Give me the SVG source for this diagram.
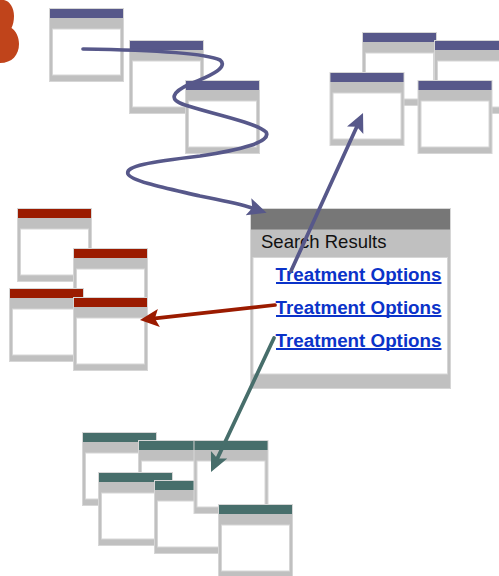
<svg xmlns="http://www.w3.org/2000/svg" xmlns:xlink="http://www.w3.org/1999/xlink" width="499" height="576" viewBox="0 0 499 576">
  <style>
    .pane-frame { fill: #c0c0c0; stroke: #d6d6d6; stroke-width: 1; }
    .pane-body { fill: #ffffff; stroke: #d6d6d6; stroke-width: 1; }
    .purple { color: #57588a; }
    .red { color: #9b1b00; }
    .teal { color: #476e6b; }
    .link { font-family: "Liberation Sans", Arial, sans-serif; font-size: 18.8px; font-weight: bold; fill: #0b33c9; }
    .underline { stroke: #0b33c9; stroke-width: 2; }
    .title { font-family: "Liberation Sans", Arial, sans-serif; font-size: 18.5px; fill: #111111; }
    .conn { fill: none; stroke-width: 3.7; stroke-linecap: round; }
  </style>
  <defs>
    <!-- generic small window: frame, coloured title bar, white pane -->
    <g id="win">
      <rect class="pane-frame" x="0.5" y="0.5" width="74" height="73"/>
      <rect x="1" y="1" width="73" height="9" fill="currentColor"/>
      <rect class="pane-body" x="3.5" y="21" width="68" height="46"/>
    </g>
    <marker id="ah-purple" markerUnits="userSpaceOnUse" markerWidth="22" markerHeight="20" refX="4" refY="9" orient="auto">
      <path d="M0,0 L19,9 L0,18 L4,9 Z" fill="#57588a"/>
    </marker>
    <marker id="ah-red" markerUnits="userSpaceOnUse" markerWidth="22" markerHeight="20" refX="4" refY="9" orient="auto">
      <path d="M0,0 L19,9 L0,18 L4,9 Z" fill="#9b1b00"/>
    </marker>
    <marker id="ah-teal" markerUnits="userSpaceOnUse" markerWidth="22" markerHeight="20" refX="4" refY="9" orient="auto">
      <path d="M0,0 L19,9 L0,18 L4,9 Z" fill="#476e6b"/>
    </marker>
  </defs>

  <rect width="499" height="576" fill="#ffffff"/>

  <!-- corner badge -->
  <path id="badge" d="M0,0 L4,0 C10,1 14,8 14,16 C14,21 13,25 11.5,28 C16,31 19,37 19,44 C19,55 12,63 0,63 Z" fill="#c0441b"/>

  <!-- browsing trail -->
  <g id="p1" class="purple" transform="translate(49,8)"><use href="#win"/></g>
  <g id="p2" class="purple" transform="translate(129,40)"><use href="#win"/></g>
  <g id="p3" class="purple" transform="translate(185,80)"><use href="#win"/></g>

  <!-- purple result pages -->
  <g id="r1" class="purple" transform="translate(362,32)"><use href="#win"/></g>
  <g id="r2" class="purple" transform="translate(434,40)"><use href="#win"/></g>
  <g id="r3" class="purple" transform="translate(329.5,72)"><use href="#win"/></g>
  <g id="r4" class="purple" transform="translate(417.5,80)"><use href="#win"/></g>

  <!-- red result pages -->
  <g id="d1" class="red" transform="translate(17,208)"><use href="#win"/></g>
  <g id="d2" class="red" transform="translate(73,248)"><use href="#win"/></g>
  <g id="d3" class="red" transform="translate(9,288)"><use href="#win"/></g>
  <g id="d4" class="red" transform="translate(73,297)"><use href="#win"/></g>

  <!-- teal result pages -->
  <g id="t1" class="teal" transform="translate(82,432)"><use href="#win"/></g>
  <g id="t2" class="teal" transform="translate(138,440)"><use href="#win"/></g>
  <g id="t3" class="teal" transform="translate(98,472)"><use href="#win"/></g>
  <g id="t4" class="teal" transform="translate(154,480)"><use href="#win"/></g>
  <g id="t5" class="teal" transform="translate(193.5,440)"><use href="#win"/></g>
  <g id="t6" class="teal" transform="translate(218,504)"><use href="#win"/></g>

  <!-- search results window -->
  <g id="search">
    <rect class="pane-frame" x="250.5" y="208.5" width="200" height="180"/>
    <rect x="251" y="209" width="199" height="20.5" fill="#777777"/>
    <rect class="pane-body" x="253" y="257.5" width="194.5" height="116.5"/>
    <text class="title" x="261" y="248">Search Results</text>
    <text class="link" x="441.5" y="280.5" text-anchor="end">Treatment Options</text>
    <text class="link" x="441.5" y="313.5" text-anchor="end">Treatment Options</text>
    <text class="link" x="441.5" y="346.5" text-anchor="end">Treatment Options</text>
    <line class="underline" x1="276" y1="283" x2="441.5" y2="283"/>
    <line class="underline" x1="276" y1="316" x2="441.5" y2="316"/>
    <line class="underline" x1="276" y1="349" x2="441.5" y2="349"/>
  </g>

  <!-- connectors -->
  <g id="connectors">
    <path class="conn" stroke="#57588a" marker-end="url(#ah-purple)"
          d="M83,49 C150,50 205,53 220,60 C230,68 205,78 190,84 C172,92 168,100 185,105 C205,112 255,122 266,132 C272,142 240,150 200,156 C150,162 125,166 128,174 C132,182 175,190 200,196 C220,200 237,203 252.3,208"/>
    <line class="conn" stroke="#57588a" marker-end="url(#ah-purple)" x1="291" y1="271" x2="356.8" y2="126.7"/>
    <line class="conn" stroke="#9b1b00" marker-end="url(#ah-red)" x1="275" y1="305" x2="154.9" y2="318.4"/>
    <line class="conn" stroke="#476e6b" marker-end="url(#ah-teal)" x1="274" y1="338" x2="217.4" y2="458.4"/>
  </g>
</svg>
